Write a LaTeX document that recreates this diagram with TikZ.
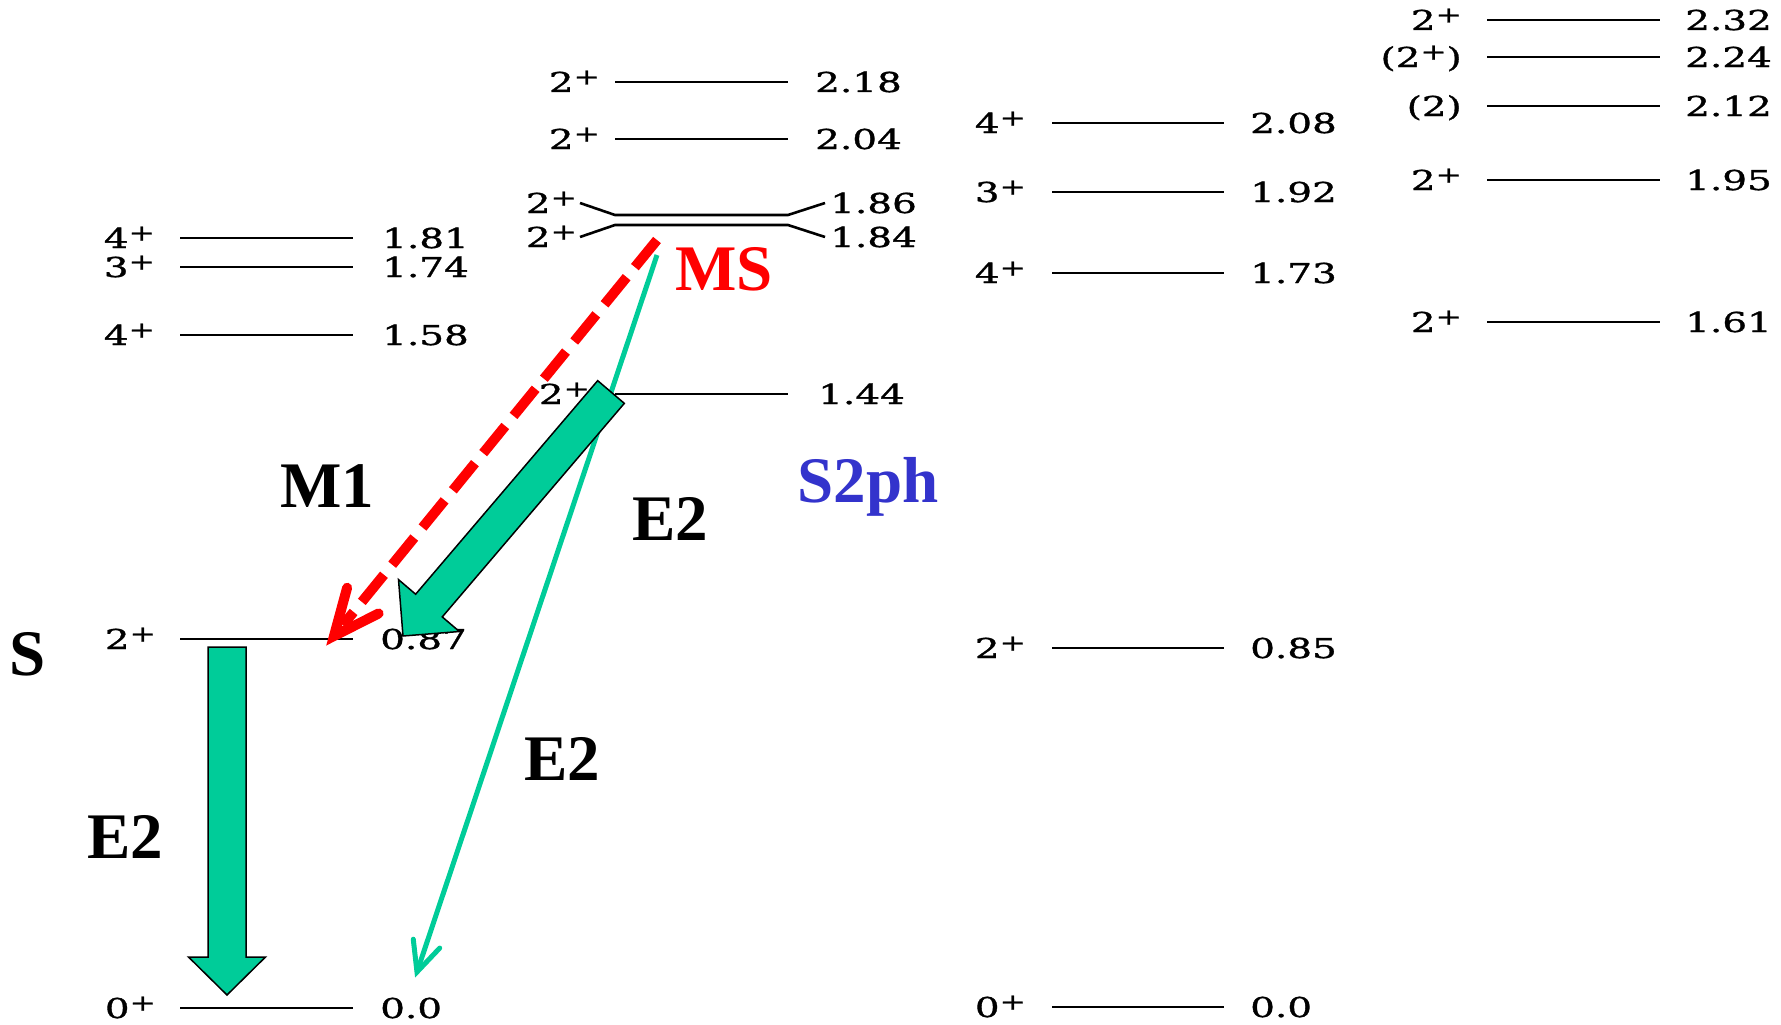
\documentclass[tikz,border=0pt]{standalone}
\usepackage{fontspec}
\setmainfont{Liberation Serif}
\newfontfamily\lvfont[FakeStretch=1.42,FakeBold=1.2]{DejaVu Serif}
\usetikzlibrary{calc}
\definecolor{tgreen}{RGB}{0,204,153}
\definecolor{tblue}{RGB}{51,51,204}
\newcommand\spl{\raisebox{7.5pt}{\fontsize{22}{22}\selectfont +}}
\newcommand\fatarrow[5]{% from, to, half shaft, half head, head length
  \path ($(#2)!#5!(#1)$) coordinate (fa-hb);
  \filldraw[fat] ($(#1)!#3!90:(#2)$) -- ($(fa-hb)!#3!-90:(#1)$) -- ($(fa-hb)!#4!-90:(#1)$) -- (#2)
     -- ($(fa-hb)!#4!90:(#1)$) -- ($(fa-hb)!#3!90:(#1)$) -- ($(#1)!#3!-90:(#2)$) -- cycle;}
\tikzset{
  lvl/.style={line width=2.6pt},
  sp/.style={font={\lvfont\fontsize{27.4}{30}\selectfont}, inner sep=0pt, anchor=base east},
  en/.style={font={\lvfont\fontsize{27.4}{30}\selectfont}, inner sep=0pt, anchor=base west},
  big/.style={font={\bfseries\fontsize{65}{70}\selectfont}, inner sep=0pt, anchor=base},
  fat/.style={fill=tgreen, draw=black, line width=1.5pt, line join=miter},
}
\begin{document}
\begin{tikzpicture}[x=1pt,y=-1pt]
\useasboundingbox (0,0) rectangle (1781,1025);
% ---------- column 1 (S) ----------
\draw[lvl] (180,238) coordinate (a1l) -- (353,238) coordinate (a1r);
\node[sp] (la1) at (155,248) {4\spl};
\node[en] (ea1) at (382,248) {1.81};
\draw[lvl] (180,267) coordinate (a2l) -- (353,267) coordinate (a2r);
\node[sp] (la2) at (155,277) {3\spl};
\node[en] (ea2) at (382,277) {1.74};
\draw[lvl] (180,335) coordinate (a3l) -- (353,335) coordinate (a3r);
\node[sp] (la3) at (155,345) {4\spl};
\node[en] (ea3) at (382,345) {1.58};
\draw[lvl] (180,639) coordinate (a4l) -- (353,639) coordinate (a4r);
\node[sp] (la4) at (156,649) {2\spl};
\node[en] (ea4) at (380,649) {0.87};
\draw[lvl] (180,1008) coordinate (a5l) -- (353,1008) coordinate (a5r);
\node[sp] (la5) at (156,1018) {0\spl};
\node[en] (ea5) at (380,1018) {0.0};
% ---------- column 2 ----------
\draw[lvl] (615,82) coordinate (b1l) -- (788,82) coordinate (b1r);
\node[sp] (lb1) at (600,92) {2\spl};
\node[en] (eb1) at (815,92) {2.18};
\draw[lvl] (615,139) coordinate (b2l) -- (788,139) coordinate (b2r);
\node[sp] (lb2) at (600,149) {2\spl};
\node[en] (eb2) at (815,149) {2.04};
\draw[lvl] (580,203) -- (615,215) coordinate (b3l) -- (788,215) coordinate (b3r) -- (825,203);
\node[sp] (lb3) at (577,213) {2\spl};
\node[en] (eb3) at (830,213) {1.86};
\draw[lvl] (580,237) -- (615,225) coordinate (b4l) -- (788,225) coordinate (b4r) -- (825,237);
\node[sp] (lb4) at (577,247) {2\spl};
\node[en] (eb4) at (830,247) {1.84};
\draw[lvl] (615,394) coordinate (b5l) -- (788,394) coordinate (b5r);
\node[sp] (lb5) at (590,404) {2\spl};
\node[en] (eb5) at (818,404) {1.44};
% ---------- column 3 ----------
\draw[lvl] (1052,123) coordinate (c1l) -- (1224,123) coordinate (c1r);
\node[sp] (lc1) at (1026,133) {4\spl};
\node[en] (ec1) at (1250,133) {2.08};
\draw[lvl] (1052,192) coordinate (c2l) -- (1224,192) coordinate (c2r);
\node[sp] (lc2) at (1026,202) {3\spl};
\node[en] (ec2) at (1250,202) {1.92};
\draw[lvl] (1052,273) coordinate (c3l) -- (1224,273) coordinate (c3r);
\node[sp] (lc3) at (1026,283) {4\spl};
\node[en] (ec3) at (1250,283) {1.73};
\draw[lvl] (1052,648) coordinate (c4l) -- (1224,648) coordinate (c4r);
\node[sp] (lc4) at (1026,658) {2\spl};
\node[en] (ec4) at (1250,658) {0.85};
\draw[lvl] (1052,1007) coordinate (c5l) -- (1224,1007) coordinate (c5r);
\node[sp] (lc5) at (1026,1017) {0\spl};
\node[en] (ec5) at (1250,1017) {0.0};
% ---------- column 4 ----------
\draw[lvl] (1487,20) coordinate (d1l) -- (1660,20) coordinate (d1r);
\node[sp] (ld1) at (1462,30) {2\spl};
\node[en] (ed1) at (1685,30) {2.32};
\draw[lvl] (1487,57) coordinate (d2l) -- (1660,57) coordinate (d2r);
\node[sp] (ld2) at (1462,67) {(2\spl)};
\node[en] (ed2) at (1685,67) {2.24};
\draw[lvl] (1487,106) coordinate (d3l) -- (1660,106) coordinate (d3r);
\node[sp] (ld3) at (1462,116) {(2)};
\node[en] (ed3) at (1685,116) {2.12};
\draw[lvl] (1487,180) coordinate (d4l) -- (1660,180) coordinate (d4r);
\node[sp] (ld4) at (1462,190) {2\spl};
\node[en] (ed4) at (1685,190) {1.95};
\draw[lvl] (1487,322) coordinate (d5l) -- (1660,322) coordinate (d5r);
\node[sp] (ld5) at (1462,332) {2\spl};
\node[en] (ed5) at (1685,332) {1.61};
% ---------- big labels ----------
\node[big] (tS) at (28,675) {S};
\node[big] (tM1) at (327,507) {M1};
\node[big] (tE2a) at (670,540) {E2};
\node[big] (tE2b) at (562,780) {E2};
\node[big] (tE2c) at (125,858) {E2};
\node[big, text=red] (tMS) at (724,290) {MS};
\node[big, text=tblue] (tS2) at (868,502) {S2ph};
% ---------- transitions ----------
\coordinate (gS) at (657,255);
\coordinate (gR) at (417,972);
\draw[tgreen, line width=5pt] (gS) -- (gR);
\draw[tgreen, line width=5pt, line cap=round, line join=miter]
  ($(gR)!33pt!25:(gS)$) -- (gR) -- ($(gR)!33pt!-25:(gS)$);
\coordinate (mS) at (657,240);
\coordinate (mR) at (334,636);
\draw[red, line width=10pt, dash pattern=on 35pt off 13pt] (mS) -- ($(mR)!14pt!(mS)$);
\draw[red, line width=10pt, line cap=round, line join=miter]
  ($(mR)!50pt!24:(mS)$) -- (mR) -- ($(mR)!50pt!-24:(mS)$);
\coordinate (eT) at (611,392);
\coordinate (eP) at (403,636);
\fatarrow{eT}{eP}{17.5pt}{40pt}{40pt}
\coordinate (sT) at (227,647);
\coordinate (sP) at (227,995);
\fatarrow{sT}{sP}{19pt}{38.5pt}{38pt}
\end{tikzpicture}
\end{document}
